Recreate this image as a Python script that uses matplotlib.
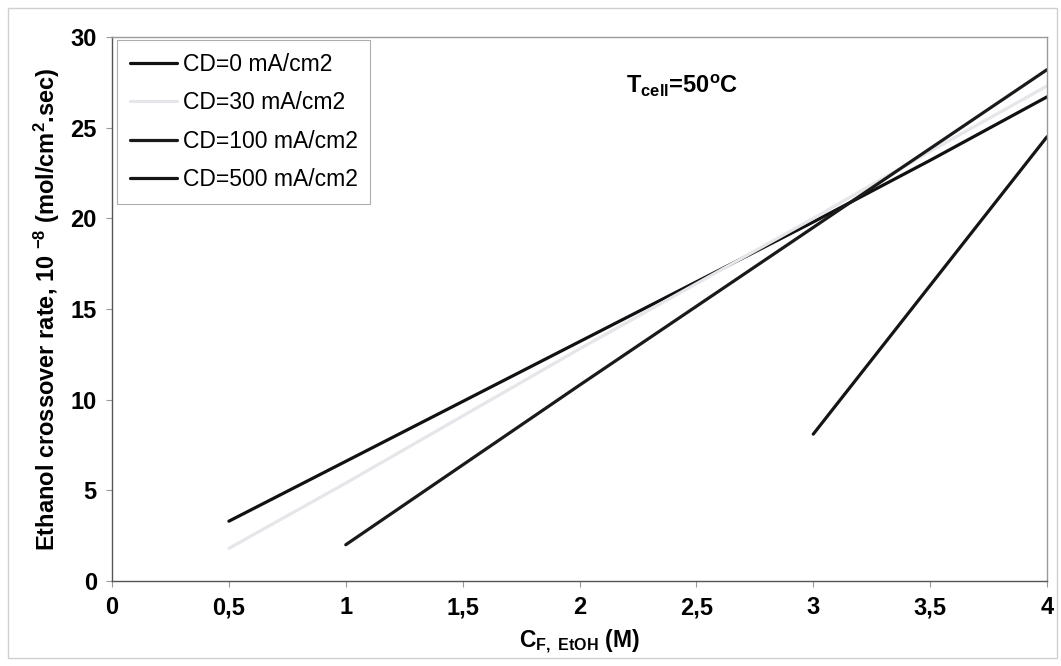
import matplotlib
matplotlib.use("Agg")
from matplotlib import pyplot as plt
from matplotlib.patches import Rectangle

# data
conc_0 = [0.5, 1.0, 1.5, 2.0, 2.5, 3.0, 3.5, 4.0]
rate_0 = [3.3, 6.6, 9.9, 13.2, 16.5, 19.8, 23.2, 26.7]
conc_30 = [0.5, 1.0, 1.5, 2.0, 2.5, 3.0, 3.5, 4.0]
rate_30 = [1.8, 5.4, 9.1, 12.8, 16.4, 20.0, 23.7, 27.3]
conc_100 = [1.0, 2.0, 3.0, 4.0]
rate_100 = [2.0, 10.8, 19.5, 28.2]
conc_500 = [3.0, 4.0]
rate_500 = [8.1, 24.5]

labels = ["CD=0 mA/cm2", "CD=30 mA/cm2", "CD=100 mA/cm2", "CD=500 mA/cm2"]
xticks = [0, 0.5, 1, 1.5, 2, 2.5, 3, 3.5, 4]
xticklabels = ["0", "0,5", "1", "1,5", "2", "2,5", "3", "3,5", "4"]
yticks = [0, 5, 10, 15, 20, 25, 30]

plt.rcParams['font.family'] = ['Liberation Sans', 'DejaVu Sans']
plt.rcParams['mathtext.fontset'] = 'custom'
plt.rcParams['mathtext.rm'] = 'Liberation Sans:bold'
plt.rcParams['mathtext.bf'] = 'Liberation Sans:bold'
plt.rcParams['mathtext.it'] = 'Liberation Sans:bold'

fig = plt.figure(figsize=(10.61, 6.66), dpi=100)
ax = fig.add_axes([0.1056, 0.1276, 0.8812, 0.8168])

# outer frame of the picture
fig.patches.append(Rectangle((0.008, 0.012), 0.988, 0.976, transform=fig.transFigure,
                             fill=False, edgecolor='#d0d0d0', linewidth=1.0))

lw = 2.3
ax.plot(conc_0, rate_0, color='#111111', lw=lw, label=labels[0], solid_capstyle='round')
ax.plot(conc_30, rate_30, color='#e4e6ea', lw=lw, label=labels[1], solid_capstyle='round')
ax.plot(conc_100, rate_100, color='#1a1a1a', lw=lw, label=labels[2], solid_capstyle='round')
ax.plot(conc_500, rate_500, color='#151515', lw=lw, label=labels[3], solid_capstyle='round')

ax.set_xlim(0, 4)
ax.set_ylim(0, 30)
ax.set_xticks(xticks)
ax.set_xticklabels(xticklabels)
ax.set_yticks(yticks)
for spine in ax.spines.values():
    spine.set_color('#9a9a9a')
    spine.set_linewidth(1.0)
ax.spines['left'].set_color('#555555')
ax.spines['bottom'].set_color('#555555')
ax.tick_params(direction='out', length=4, width=0.8, color='#999999', labelsize=17, pad=7)
for t in ax.get_xticklabels() + ax.get_yticklabels():
    t.set_fontweight('bold')

ax.set_ylabel(r"Ethanol crossover rate, 10 $^{-8}$ (mol/cm$^{2}$.sec)", fontsize=17,
              fontweight='bold', labelpad=6)
ax.set_xlabel(r"C$_{F,\ EtOH}$ (M)", fontsize=16.5, fontweight='bold', labelpad=6)

ax.text(2.20, 27.3, r"T$_{cell}$=50$^{o}$C", fontsize=17, fontweight='bold',
        va='center', ha='left')

leg = ax.legend(loc='upper left', bbox_to_anchor=(0.1103, 0.940), bbox_transform=fig.transFigure,
                fontsize=16.5, frameon=True, fancybox=False, handlelength=2.05,
                handletextpad=0.26, labelspacing=0.68, borderpad=0.55, borderaxespad=0)
leg.get_frame().set_edgecolor('#9a9a9a')
leg.get_frame().set_linewidth(0.8)

fig.savefig("out.png", dpi=100)
